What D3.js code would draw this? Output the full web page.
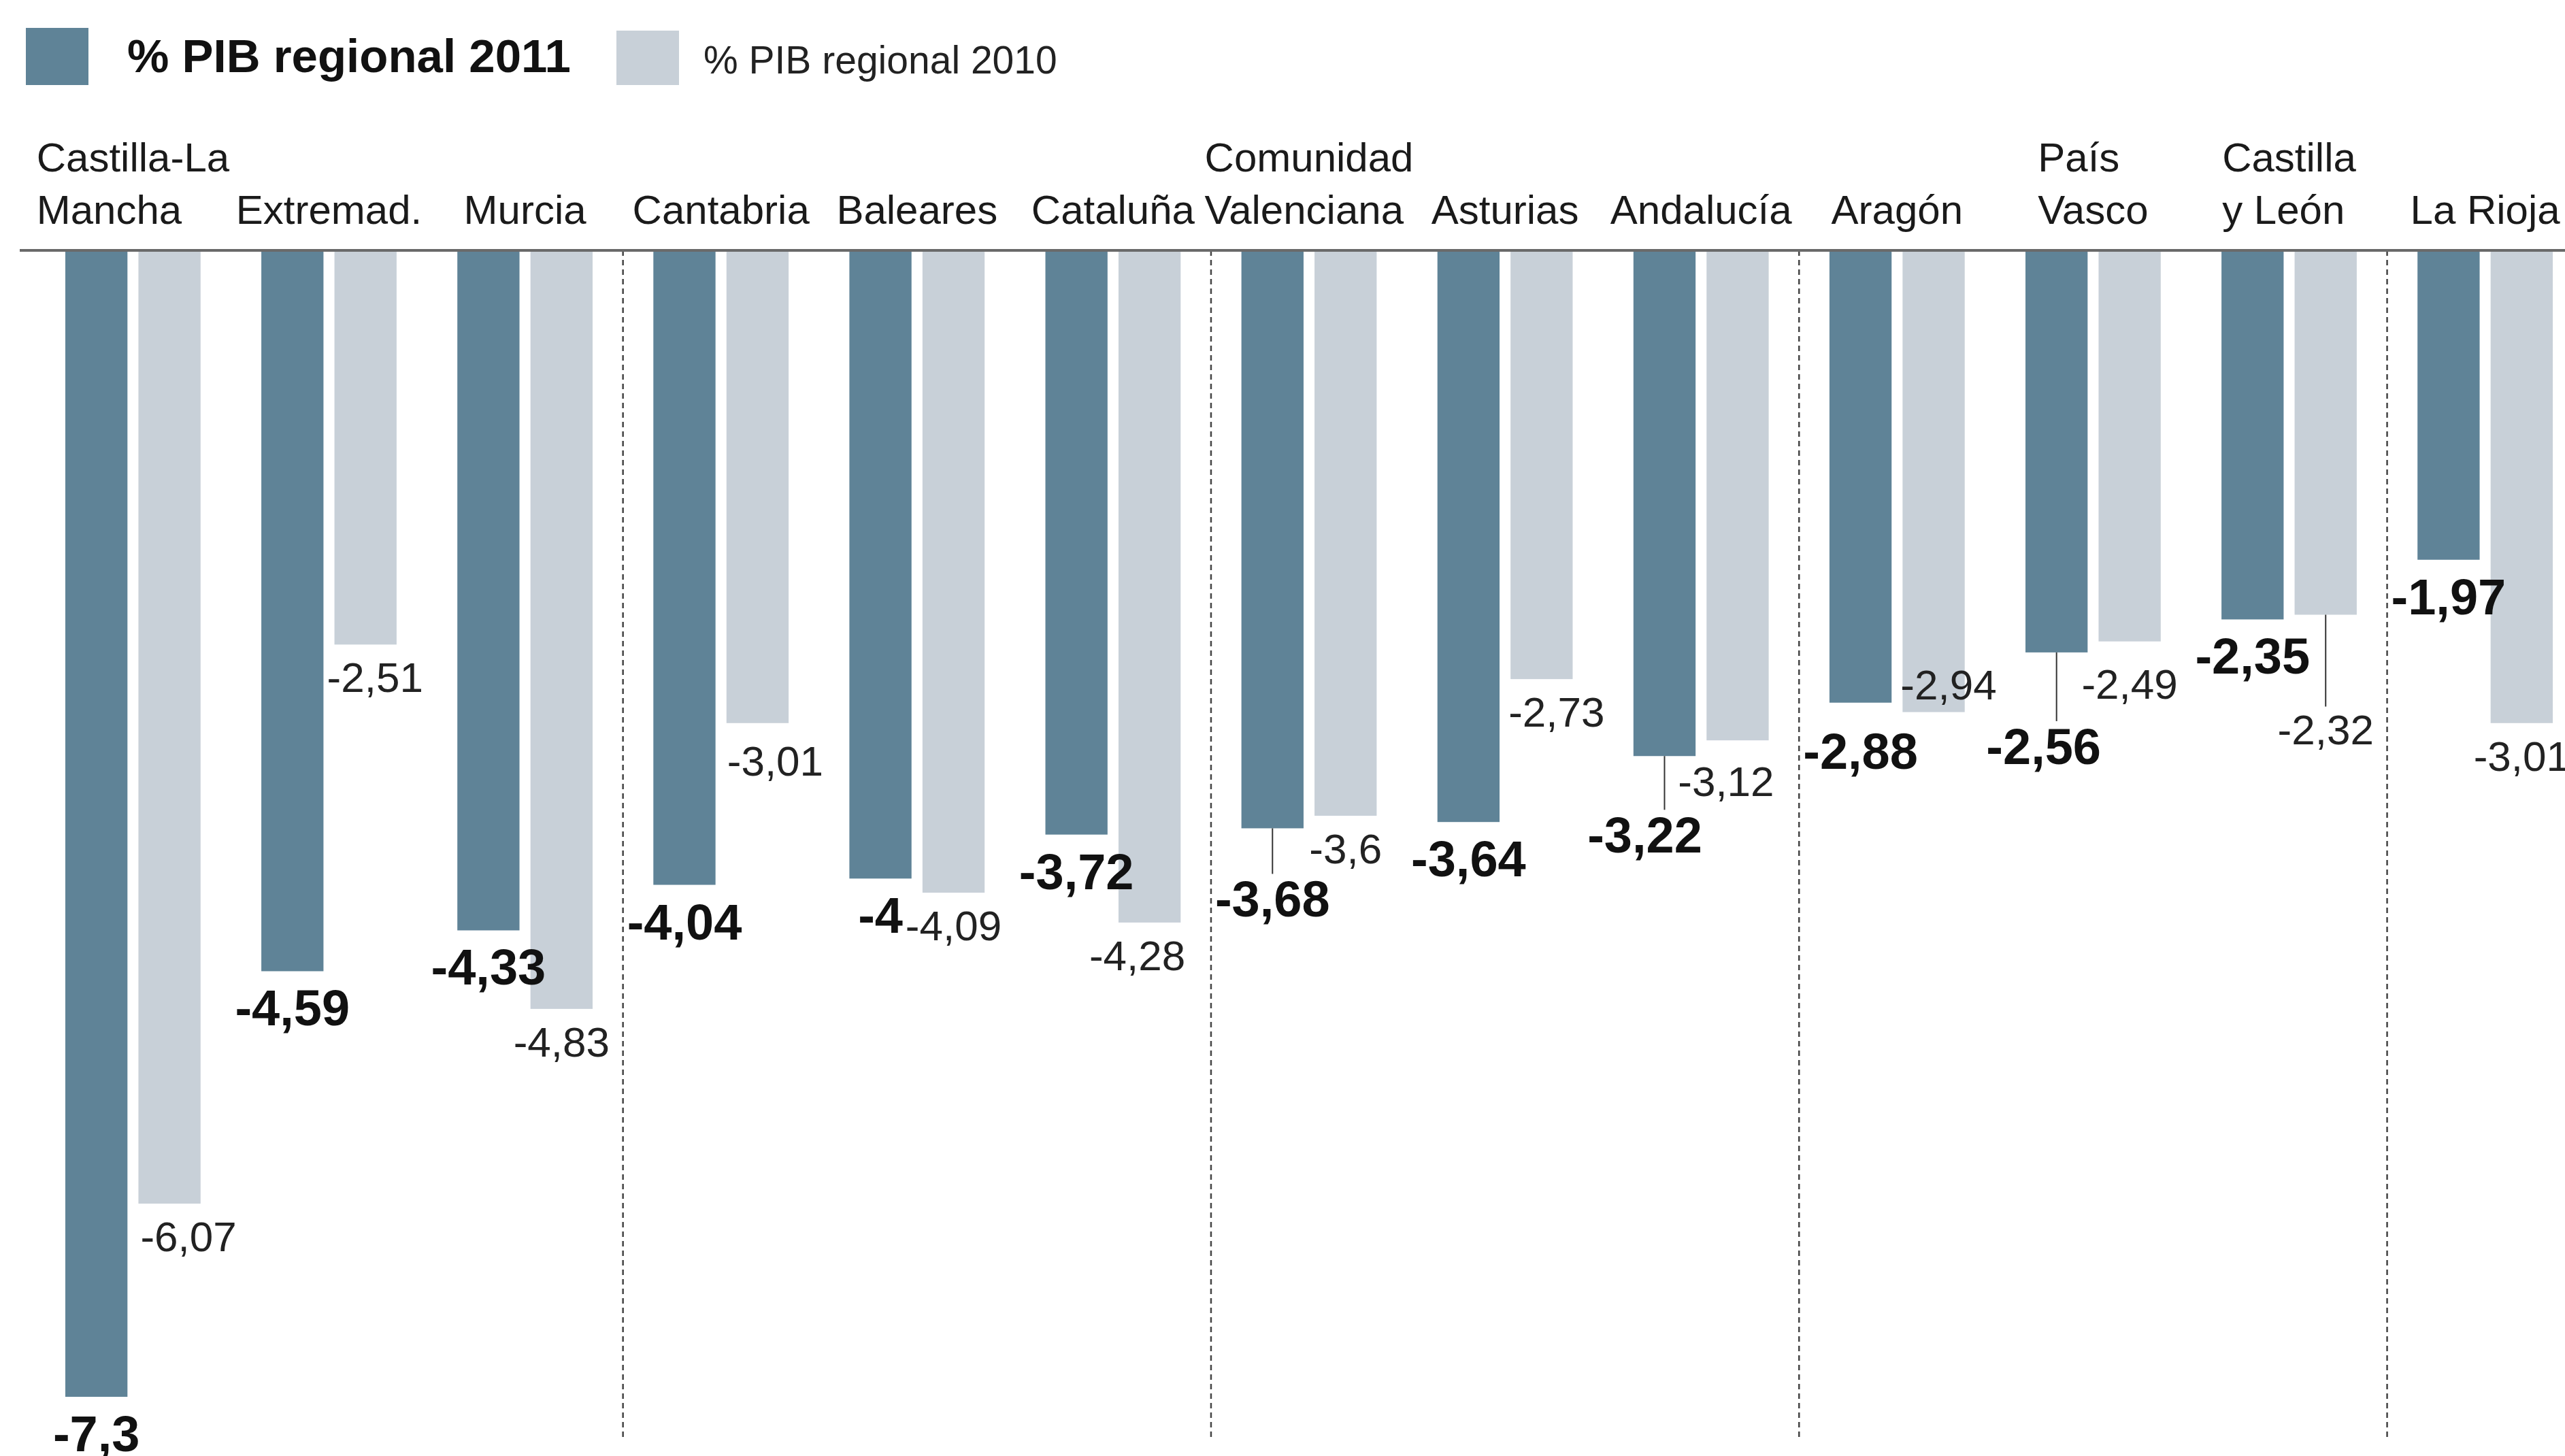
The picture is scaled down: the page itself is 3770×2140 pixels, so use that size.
<!doctype html>
<html>
<head>
<meta charset="utf-8" />
<title>Déficit autonómico – % PIB regional</title>
<style>
  html,body{margin:0;background:#fff}
  svg{display:block;font-family:"Liberation Sans", Arial, sans-serif}
  .cat text{font-size:60px;fill:#1a1a1a}
  .v11{font-size:74px;font-weight:700;fill:#111}
  .v10{font-size:62px;fill:#222}
</style>
</head>
<body>
<svg id="chart" width="3770" height="2140"></svg>

<script src="https://cdn.jsdelivr.net/npm/d3@7"></script>
<script>
// ---- data ----
const regions = ['Castilla-La Mancha','Extremad.','Murcia','Cantabria','Baleares','Cataluña',
  'Comunidad Valenciana','Asturias','Andalucía','Aragón','País Vasco','Castilla y León','La Rioja'];
const tickLines = [['Castilla-La','Mancha'],['Extremad.'],['Murcia'],['Cantabria'],['Baleares'],['Cataluña'],
  ['Comunidad','Valenciana'],['Asturias'],['Andalucía'],['Aragón'],['País','Vasco'],['Castilla','y León'],['La Rioja']];
const pib2011 = [-7.3,-4.59,-4.33,-4.04,-4,-3.72,-3.68,-3.64,-3.22,-2.88,-2.56,-2.35,-1.97];
const pib2010 = [-6.07,-2.51,-4.83,-3.01,-4.09,-4.28,-3.6,-2.73,-3.12,-2.94,-2.49,-2.32,-3.01];
const series = ['2011','2010'];
const legendLabels = ['% PIB regional 2011','% PIB regional 2010'];
const dividersBefore = ['Cantabria','Comunidad Valenciana','Aragón','La Rioja'];

// label tweaks (layout only)
const nudge11 = {
  'Comunidad Valenciana':{dy:50,leader:true},
  'Andalucía':{dx:-29,dy:62,leader:true},
  'País Vasco':{dx:-19,dy:84,leader:true},
  'Aragón':{dy:17}
};
const nudge10 = {
  'Castilla-La Mancha':{dx:28},'Extremad.':{dx:14},'Cantabria':{dx:26,dy:7},
  'Asturias':{dx:22},'Cataluña':{dx:-18},'Andalucía':{dx:-17,dy:12},
  'Aragón':{dx:22,dy:-89},'Castilla y León':{dy:120,leader:true},'País Vasco':{dy:14}
};

const colors = {'2011':'#5f8397','2010':'#c8d0d8'};
const fmt = v => String(v).replace('.', ',');

const svg = d3.select('#chart');
const y0 = 368;

const x0 = d3.scaleBand().domain(regions).range([96, 3752]).paddingInner(0.31).paddingOuter(0);
const x1 = d3.scaleBand().domain(series).range([0, x0.bandwidth()]).paddingInner(0.15);
const y  = d3.scaleLinear().domain([0, -7.3]).range([y0, 2053]);

const rows = regions.map((r,i) => ({region:r, lines:tickLines[i], '2011':pib2011[i], '2010':pib2010[i]}));

/* legend */
const leg = svg.append('g');
leg.append('rect').attr('x',38).attr('y',41).attr('width',92).attr('height',84).attr('fill',colors['2011']);
leg.append('text').attr('x',187).attr('y',106).attr('font-size',69).attr('font-weight',700)
   .attr('fill','#111').text(legendLabels[0]);
leg.append('rect').attr('x',906).attr('y',45).attr('width',92).attr('height',80).attr('fill',colors['2010']);
leg.append('text').attr('x',1034).attr('y',108).attr('font-size',57).attr('fill','#222').text(legendLabels[1]);

/* dotted dividers */
const gap = x0.step() - x0.bandwidth();
svg.append('g').selectAll('line').data(dividersBefore).join('line')
  .attr('x1', d => x0(d) - gap/2).attr('x2', d => x0(d) - gap/2)
  .attr('y1', y0).attr('y2', 2115)
  .attr('stroke','#444').attr('stroke-width',2.5).attr('stroke-dasharray','8,6');

/* bars */
const groups = svg.append('g').selectAll('g').data(rows).join('g')
  .attr('transform', d => `translate(${x0(d.region)},0)`);

groups.selectAll('rect').data(d => series.map(k => ({k, v:d[k]}))).join('rect')
  .attr('x', d => x1(d.k)).attr('width', x1.bandwidth())
  .attr('y', y0).attr('height', d => y(d.v) - y0)
  .attr('fill', d => colors[d.k]);

/* axis line + category labels */
svg.append('line').attr('x1',29).attr('x2',3770).attr('y1',y0).attr('y2',y0)
   .attr('stroke','#6a6a6a').attr('stroke-width',4);

const ax = svg.append('g').attr('class','cat').attr('transform',`translate(0,${y0})`)
  .call(d3.axisTop(x0).tickSize(0).tickFormat(''));
ax.select('.domain').remove();
ax.selectAll('.tick').each(function(d,i){
  const t = d3.select(this).select('text')
    .attr('font-size',null).attr('fill',null).attr('text-anchor','start').attr('y',0).attr('dy',null)
    .style('font-size','60px');
  const lines = tickLines[i];
  lines.forEach((ln,j) => {
    t.append('tspan').attr('x',0).attr('y', -39 - (lines.length-1-j)*77).text(ln);
  });
  const w = d3.max(t.selectAll('tspan').nodes(), n => n.getComputedTextLength());
  t.selectAll('tspan').attr('x', -w/2);
});
ax.selectAll('.tick text').style('font-family','"Liberation Sans", Arial, sans-serif').attr('fill','#1a1a1a');

/* value labels */
function addLabels(key, cls, nudge, base, cap){
  const sel = svg.append('g');
  rows.forEach(d => {
    const n = nudge[d.region] || {};
    const cx = x0(d.region) + x1(key) + x1.bandwidth()/2;
    const by = y(d[key]);
    const yb = by + base + (n.dy || 0);
    if (n.leader) {
      sel.append('line').attr('x1',cx).attr('x2',cx).attr('y1',by).attr('y2',yb - cap - 10)
        .attr('stroke','#333').attr('stroke-width',2);
    }
    sel.append('text').attr('class',cls).attr('text-anchor','middle')
      .attr('x', cx + (n.dx || 0)).attr('y', yb).text(fmt(d[key]));
  });
}
addLabels('2011','v11',nudge11,80,53);
addLabels('2010','v10',nudge10,70,45);
</script>
</body>
</html>
